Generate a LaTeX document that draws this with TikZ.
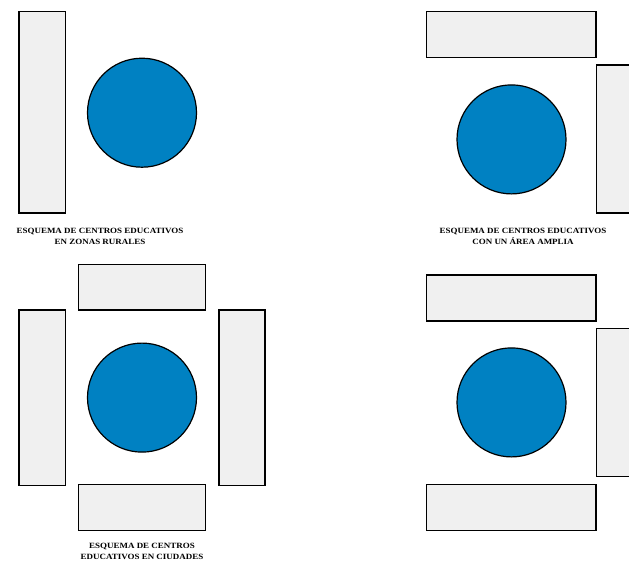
\documentclass[tikz,border=0pt]{standalone}
\usepackage{fontspec}
\setmainfont{Liberation Serif}
\newfontfamily\capfont[FakeStretch=1.12]{Liberation Serif}
\definecolor{bluec}{RGB}{0,129,194}
\definecolor{greyb}{RGB}{240,240,240}
\tikzset{
  bldg/.style={draw=black, fill=greyb, line width=1.2pt, inner sep=0pt, outer sep=0pt, rectangle},
  court/.style={draw=black, fill=bluec, line width=1.2pt, inner sep=0pt, outer sep=0pt, circle, minimum size=109pt},
  caption/.style={font=\capfont\bfseries\fontsize{8}{11}\selectfont, align=center, inner sep=0pt}
}
\begin{document}
\begin{tikzpicture}[x=1pt,y=-1pt]
\useasboundingbox (0,0) rectangle (629,563);
\fill[white] (0,0) rectangle (629,563);
\clip (0,0) rectangle (629,563);
% panel 1
\node[bldg, minimum width=46.5pt, minimum height=201.5pt] (a1) at (42.2,112.2) {};
\node[court] (c1) at (142,112.7) {};
\node[caption] (t1) at (100,236.5) {ESQUEMA DE CENTROS EDUCATIVOS\\EN ZONAS RURALES};
% panel 2
\node[bldg, minimum width=169.5pt, minimum height=45.8pt] (b1) at (511.2,34.4) {};
\node[bldg, minimum width=50pt, minimum height=148pt] (b2) at (621.4,139) {};
\node[court] (c2) at (511.5,139.4) {};
\node[caption] (t2) at (523,236.5) {ESQUEMA DE CENTROS EDUCATIVOS\\CON UN ÁREA AMPLIA};
% panel 3
\node[bldg, minimum width=127.3pt, minimum height=45.5pt] (d1) at (142,287.3) {};
\node[bldg, minimum width=46.5pt, minimum height=175.6pt] (d2) at (42.2,397.8) {};
\node[bldg, minimum width=46pt, minimum height=175.6pt] (d3) at (242,397.8) {};
\node[bldg, minimum width=127.3pt, minimum height=45.9pt] (d4) at (142,507.6) {};
\node[court] (c3) at (142,397.6) {};
\node[caption] (t3) at (142,551.8) {ESQUEMA DE CENTROS\\EDUCATIVOS EN CIUDADES};
% panel 4
\node[bldg, minimum width=169.5pt, minimum height=46pt] (e1) at (511.2,298) {};
\node[bldg, minimum width=50pt, minimum height=148.1pt] (e2) at (621.4,402.6) {};
\node[bldg, minimum width=169.5pt, minimum height=45.9pt] (e3) at (511.2,507.6) {};
\node[court] (c4) at (511.5,402.4) {};
\end{tikzpicture}
\end{document}
